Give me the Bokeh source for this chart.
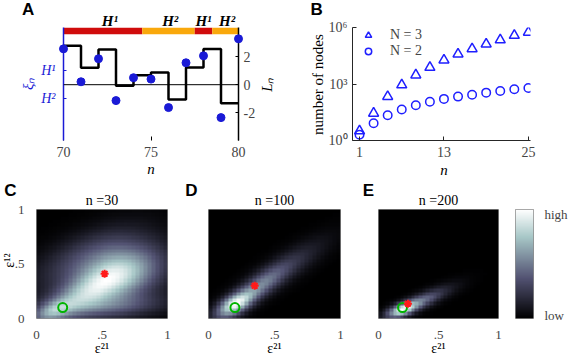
import numpy as np
from bokeh.plotting import figure
from bokeh.layouts import row, column
from bokeh.models import Span, FixedTicker, LinearAxis, Range1d, ColumnDataSource, Legend, LegendItem
from bokeh.embed import file_html
from bokeh.resources import INLINE
from bokeh.core.properties import value

SERIF = "Liberation Serif"
SANS = "Liberation Sans"
BLUE = "#1a1ad6"

# ---------------- Panel A data ----------------
a_n = [70, 71, 72, 73, 74, 75, 76, 77, 78, 79, 80]
a_xi = [2.57, 0.21, 1.86, -1.14, 0.50, 0.40, -1.64, 1.57, 2.07, -2.36, 3.29]
a_L = [2.79, 1.21, 2.52, -0.07, 0.67, 0.88, -1.07, 1.24, 2.55, -1.33]
seg_start = [70, 74.5, 77.5, 78.5]
seg_end = [74.5, 77.5, 78.5, 80]
seg_state = ["H¹", "H²", "H¹", "H²"]
seg_label_x = [72.65, 76.1, 78.0, 79.35]
state_colors = {"H¹": "#d00c0c", "H²": "#f9a80c"}

# ---------------- Panel B data ----------------
b_n = [1, 3, 5, 7, 9, 11, 13, 15, 17, 19, 21, 23, 25]
b_N3 = [3.2, 28, 215, 890, 3000, 7600, 18600, 39000, 74000, 132000, 219000, 380000, 560000]
b_N2 = [2.0, 8.3, 22, 44, 74, 115, 162, 214, 269, 347, 427, 525, 617]

# ---------------- Panels C-E data (density components) ----------------
C_mx = [0.62, 0.36, 0.13, 0.55, 0.40]
C_my = [0.40, 0.22, 0.07, 0.12, 0.56]
C_sx = [0.20, 0.20, 0.09, 0.26, 0.24]
C_sy = [0.16, 0.15, 0.06, 0.07, 0.17]
C_rho = [0.3, 0.7, 0.5, 0.2, 0.6]
C_w = [1.0, 0.75, 0.55, 0.35, 0.25]

D_mx = [0.20, 0.36, 0.56]
D_my = [0.13, 0.27, 0.45]
D_sx = [0.08, 0.14, 0.19]
D_sy = [0.07, 0.13, 0.16]
D_rho = [0.6, 0.85, 0.85]
D_w = [1.0, 0.45, 0.15]

E_mx = [0.20, 0.30, 0.43]
E_my = [0.08, 0.13, 0.20]
E_sx = [0.07, 0.12, 0.14]
E_sy = [0.04, 0.065, 0.075]
E_rho = [0.55, 0.8, 0.8]
E_w = [1.0, 0.45, 0.12]

est_x = [0.52, 0.35, 0.245]
est_y = [0.41, 0.30, 0.136]
true_x = [0.2, 0.2, 0.2]
true_y = [0.1, 0.1, 0.1]
n_titles = ["n =30", "n =100", "n =200"]
GRID = 33
GAMMA = 0.7


def bone_palette(N=256):
    g = np.linspace(0, 1, N)
    n = int(3 / 8 * N)
    r_hot = np.concatenate([np.arange(1, n + 1) / n, np.ones(N - n)])
    g_hot = np.concatenate([np.zeros(n), np.arange(1, n + 1) / n, np.ones(N - 2 * n)])
    b_hot = np.concatenate([np.zeros(2 * n), np.arange(1, N - 2 * n + 1) / (N - 2 * n)])
    R = (7 * g + b_hot) / 8
    G = (7 * g + g_hot) / 8
    B = (7 * g + r_hot) / 8
    return ["#%02x%02x%02x" % (int(round(r * 255)), int(round(gg * 255)), int(round(b * 255)))
            for r, gg, b in zip(R, G, B)]


BONE = bone_palette()


def density(mx, my, sx, sy, rho, w):
    c = (np.arange(GRID) + 0.5) / GRID
    X, Y = np.meshgrid(c, c)
    Z = np.zeros_like(X)
    for m1, m2, s1, s2, r, ww in zip(mx, my, sx, sy, rho, w):
        dx = (X - m1) / s1
        dy = (Y - m2) / s2
        q = (dx * dx - 2 * r * dx * dy + dy * dy) / (1 - r * r)
        Z += ww * np.exp(-0.5 * q)
    Z /= Z.max()
    return Z ** GAMMA


def lab(p, x, y, text, size="14px", font=SERIF, style="normal", color="black", angle=0.0):
    p.text(x=[x], y=[y], text=[text], text_font=value(font), text_font_size=size,
           text_font_style=style, text_color=color, angle=angle,
           text_align="center", text_baseline="middle", level="overlay")


def base_fig(**kw):
    p = figure(output_backend="svg", toolbar_location=None, **kw)
    p.grid.visible = False
    p.outline_line_color = None
    p.background_fill_color = "white"
    p.border_fill_color = "white"
    return p


# ================= Panel A =================
pa = base_fig(x_range=Range1d(70, 80), y_range=Range1d(-4, 4.1),
              frame_width=175, frame_height=113,
              min_border_left=63, min_border_right=52, min_border_top=27, min_border_bottom=38,
              y_axis_location="left")
xa = pa.xaxis[0]
xa.ticker = FixedTicker(ticks=[70, 75, 80])
xa.axis_line_color = None
xa.major_tick_in = 4
xa.major_tick_out = 0
xa.major_tick_line_color = "black"
xa.minor_tick_line_color = None
xa.major_label_text_font = SERIF
xa.major_label_text_font_size = "14px"
xa.major_label_standoff = 6
ya = pa.yaxis[0]
ya.ticker = FixedTicker(ticks=[-1, 1])
ya.major_label_overrides = {1: "H¹", -1: "H²"}
ya.axis_line_color = BLUE
ya.axis_line_width = 1.5
ya.major_tick_line_color = BLUE
ya.major_tick_in = 3
ya.major_tick_out = 0
ya.minor_tick_line_color = None
ya.major_label_text_color = BLUE
ya.major_label_text_font = SERIF
ya.major_label_text_font_style = "italic"
ya.major_label_text_font_size = "14px"
ya.major_label_standoff = 8
ra = LinearAxis(ticker=FixedTicker(ticks=[-2, 0, 2]))
ra.major_label_overrides = {-2: "-2", 0: "0", 2: "2"}
ra.axis_line_color = "black"
ra.axis_line_width = 1.5
ra.major_tick_in = 3
ra.major_tick_out = 0
ra.minor_tick_line_color = None
ra.major_label_text_font = SERIF
ra.major_label_text_font_size = "14px"
ra.major_label_standoff = 5
pa.add_layout(ra, "right")

bar_src = ColumnDataSource(dict(left=seg_start, right=seg_end,
                                color=[state_colors[s] for s in seg_state]))
pa.quad(left="left", right="right", bottom=3.62, top=4.1, color="color", source=bar_src, line_width=0)
txt_src = ColumnDataSource(dict(x=seg_label_x, t=seg_state))
pa.text(x="x", y=4.55, text="t", source=txt_src, text_font=value(SERIF), text_font_size="15px",
        text_font_style="bold italic", text_align="center", text_baseline="middle", level="overlay")

pa.add_layout(Span(location=0, dimension="width", line_color="black", line_width=1))
pa.step(x=a_n, y=a_L + [a_L[-1]], mode="after", line_color="black", line_width=2.5)
pa.scatter(x=a_n, y=a_xi, size=8, color=BLUE, level="overlay")

lab(pa, 67.98, 5.36, "A", size="17px", font=SANS, style="bold")
lab(pa, 67.98, 0.07, "ξₙ", size="15px", style="italic", color=BLUE, angle=np.pi / 2)
lab(pa, 81.65, 0.0, "Lₙ", size="15px", style="italic", angle=np.pi / 2)
lab(pa, 75.0, -6.07, "n", size="15px", style="italic")

# ================= Panel B =================
pb = base_fig(x_range=Range1d(0, 25.3), y_range=Range1d(1, 1e6), y_axis_type="log",
              frame_width=178, frame_height=113,
              min_border_left=62, min_border_right=47, min_border_top=27, min_border_bottom=38)
for ax in (pb.xaxis[0], pb.yaxis[0]):
    ax.axis_line_color = "#262626"
    ax.major_tick_line_color = "#262626"
    ax.major_tick_in = 4
    ax.major_tick_out = 0
    ax.minor_tick_line_color = None
    ax.major_label_text_font = SERIF
    ax.major_label_text_font_size = "14px"
pb.xaxis[0].ticker = FixedTicker(ticks=[1, 13, 25])
pb.xaxis[0].major_label_standoff = 6
pb.yaxis[0].ticker = FixedTicker(ticks=[1, 1000, 1000000])
pb.yaxis[0].major_label_overrides = {1: "10⁰", 1000: "10³", 1000000: "10⁶"}
pb.yaxis[0].major_label_standoff = 5

r3 = pb.scatter(x=b_n, y=b_N3, marker="triangle", size=10, fill_color=None,
                line_color="#1f1fff", line_width=1.5)
r2 = pb.scatter(x=b_n, y=b_N2, marker="circle", size=8.5, fill_color=None,
                line_color="#1f1fff", line_width=1.5)
leg = Legend(items=[LegendItem(label="N = 3", renderers=[r3]), LegendItem(label="N = 2", renderers=[r2])],
             location="top_left", padding=3, margin=0, spacing=0, glyph_width=32, glyph_height=16,
             label_height=16, label_standoff=6, border_line_color=None, background_fill_alpha=0,
             label_text_font=SERIF, label_text_font_size="14px")
pb.add_layout(leg)

lab(pb, -5.08, 10 ** 6.97, "B", size="17px", font=SANS, style="bold")
lab(pb, -4.95, 10 ** 2.97, "number of nodes", size="15px", angle=np.pi / 2)
lab(pb, 13.0, 10 ** -1.54, "n", size="15px", style="italic")

# ================= Panels C, D, E =================
dens_params = [(C_mx, C_my, C_sx, C_sy, C_rho, C_w),
               (D_mx, D_my, D_sx, D_sy, D_rho, D_w),
               (E_mx, E_my, E_sx, E_sy, E_rho, E_w)]
borders = [(36, 131, 15), (26, 132, 20), (18, 120, 9)]
letters = ["C", "D", "E"]
letter_xpx = [-26.0, -17.0, -10.0]
heat_figs = []
for i in range(3):
    bl, fw, br = borders[i]
    p = base_fig(x_range=Range1d(0, 1), y_range=Range1d(0, 1),
                 frame_width=fw, frame_height=109,
                 min_border_left=bl, min_border_right=br, min_border_top=31, min_border_bottom=46,
                 y_axis_location="left" if i == 0 else None)
    p.outline_line_color = "#8c8c8c"
    p.outline_line_width = 1
    p.image(image=[density(*dens_params[i])], x=0, y=0, dw=1, dh=1, palette=BONE)
    axes = [p.xaxis[0]] + ([p.yaxis[0]] if i == 0 else [])
    for ax in axes:
        ax.ticker = FixedTicker(ticks=[0, 0.5, 1])
        ax.major_label_overrides = {0: "0", 0.5: ".5", 1: "1"}
        ax.axis_line_color = None
        ax.major_tick_line_color = None
        ax.minor_tick_line_color = None
        ax.major_label_text_font = SERIF
        ax.major_label_text_font_size = "13px"
        ax.major_label_standoff = 6
    p.scatter(x=[true_x[i]], y=[true_y[i]], marker="circle", size=9, fill_color=None,
              line_color="#00b400", line_width=2)
    p.scatter(x=[est_x[i]], y=[est_y[i]], marker="asterisk", size=8, line_color="#ff1a1a", line_width=2)
    lab(p, 0.5, 1.083, n_titles[i], size="14px")
    lab(p, 0.5, -0.275, "ε²¹", size="14px")
    lab(p, letter_xpx[i] / fw, 1.174, letters[i], size="17px", font=SANS, style="bold")
    if i == 0:
        lab(p, -0.206, 0.532, "ε¹²", size="14px", angle=np.pi / 2)
    heat_figs.append(p)

# ================= Colorbar =================
pc = base_fig(x_range=Range1d(0, 1), y_range=Range1d(0, 1),
              frame_width=18, frame_height=109,
              min_border_left=8, min_border_right=44, min_border_top=31, min_border_bottom=46,
              x_axis_location=None, y_axis_location="right")
pc.outline_line_color = "#8c8c8c"
cb_levels = np.linspace(0, 1, 256).reshape(256, 1)
pc.image(image=[cb_levels], x=0, y=0, dw=1, dh=1, palette=BONE)
cy = pc.yaxis[0]
cy.ticker = FixedTicker(ticks=[0.03, 0.95])
cy.major_label_overrides = {0.03: "low", 0.95: "high"}
cy.axis_line_color = None
cy.major_tick_line_color = None
cy.minor_tick_line_color = None
cy.major_label_text_font = SERIF
cy.major_label_text_font_size = "13px"
cy.major_label_standoff = 5

layout = column(row(pa, pb), row(heat_figs[0], heat_figs[1], heat_figs[2], pc))
open("out.html", "w").write(file_html(layout, INLINE))
